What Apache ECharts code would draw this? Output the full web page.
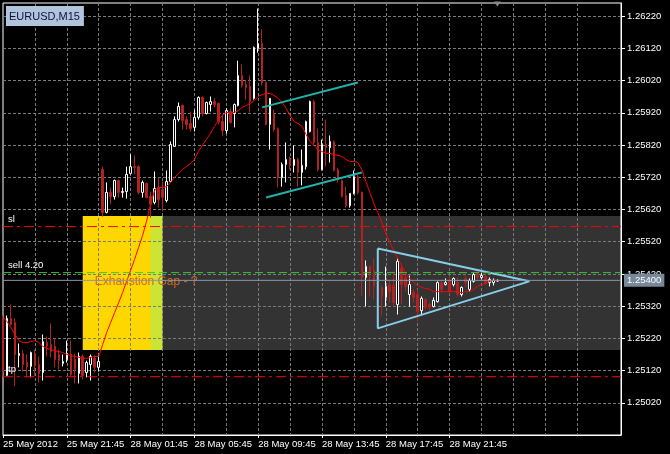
<!DOCTYPE html>
<html><head><meta charset="utf-8">
<script src="https://cdn.jsdelivr.net/npm/echarts@6/dist/echarts.min.js"></script>
<style>html,body{margin:0;padding:0;background:#000;}#c{width:670px;height:454px;}</style>
</head><body><div id="c"></div>
<script>
// ---- Candle data (EURUSD M15), index 0 = 25 May 17:45 ----
const opens = [1.25279,1.25105,1.25282,1.25269,1.25167,1.25173,1.25145,1.25133,1.25173,1.25139,
1.25114,1.25207,1.25201,1.25195,1.25170,1.25142,1.25154,1.25170,1.25154,1.25111,
1.25164,1.25114,1.25139,1.25158,1.25130,1.25744,1.25611,1.25673,1.25660,1.25710,
1.25673,1.25676,1.25732,1.25753,1.25753,1.25673,1.25701,1.25660,1.25642,1.25688,
1.25682,1.25648,1.25707,1.25816,1.25899,1.25943,1.25899,1.25887,1.25875,1.25906,
1.25968,1.25918,1.25946,1.25955,1.25949,1.25893,1.25865,1.25924,1.25918,1.25943,
1.26036,1.26008,1.26002,1.25965,1.26120,1.26135,1.26014,1.25884,1.25915,1.25871,
1.25719,1.25760,1.25775,1.25757,1.25775,1.25735,1.25753,1.25862,1.25955,1.25828,
1.25744,1.25822,1.25812,1.25831,1.25744,1.25710,1.25663,1.25632,1.25670,1.25722,
1.25673,1.25409,1.25443,1.25431,1.25381,1.25378,1.25347,1.25387,1.25384,1.25325,
1.25437,1.25409,1.25356,1.25362,1.25356,1.25306,1.25341,1.25325,1.25319,1.25334,
1.25393,1.25387,1.25397,1.25387,1.25393,1.25356,1.25406,1.25372,1.25397,1.25421,
1.25409,1.25412,1.25393,1.25393,1.25398];
const closes = [1.25117,1.25282,1.25263,1.25170,1.25173,1.25139,1.25133,1.25176,1.25136,1.25111,
1.25210,1.25195,1.25179,1.25154,1.25151,1.25148,1.25173,1.25108,1.25123,1.25164,
1.25105,1.25145,1.25164,1.25130,1.25148,1.25611,1.25673,1.25660,1.25710,1.25673,
1.25676,1.25729,1.25753,1.25750,1.25673,1.25704,1.25657,1.25636,1.25685,1.25651,
1.25657,1.25707,1.25822,1.25899,1.25940,1.25896,1.25884,1.25871,1.25906,1.25968,
1.25918,1.25952,1.25955,1.25946,1.25893,1.25865,1.25927,1.25890,1.25946,1.26036,
1.26005,1.25999,1.25955,1.26123,1.26135,1.26014,1.25884,1.25965,1.25868,1.25719,
1.25760,1.25775,1.25757,1.25775,1.25735,1.25757,1.25893,1.25955,1.25828,1.25744,
1.25822,1.25812,1.25831,1.25741,1.25713,1.25660,1.25632,1.25670,1.25722,1.25673,
1.25409,1.25443,1.25428,1.25381,1.25362,1.25350,1.25381,1.25365,1.25331,1.25459,
1.25387,1.25381,1.25387,1.25347,1.25303,1.25344,1.25316,1.25316,1.25338,1.25393,
1.25372,1.25393,1.25365,1.25406,1.25356,1.25378,1.25393,1.25400,1.25418,1.25409,
1.25415,1.25393,1.25403,1.25400,1.25400];
const highs = [1.25291,1.25291,1.25325,1.25282,1.25204,1.25185,1.25170,1.25179,1.25185,1.25164,
1.25232,1.25226,1.25266,1.25220,1.25185,1.25170,1.25213,1.25213,1.25173,1.25176,
1.25170,1.25151,1.25170,1.25167,1.25167,1.25753,1.25704,1.25688,1.25713,1.25713,
1.25688,1.25753,1.25791,1.25788,1.25757,1.25710,1.25704,1.25676,1.25738,1.25719,
1.25707,1.25741,1.25831,1.25909,1.25952,1.25946,1.25909,1.25924,1.25930,1.25971,
1.25971,1.25955,1.25971,1.25965,1.25952,1.25915,1.25934,1.25934,1.25949,1.26082,
1.26070,1.26020,1.26036,1.26126,1.26244,1.26179,1.26017,1.25965,1.25930,1.25875,
1.25766,1.25828,1.25785,1.25819,1.25781,1.25806,1.25896,1.25958,1.25961,1.25871,
1.25837,1.25899,1.25850,1.25834,1.25750,1.25713,1.25691,1.25670,1.25741,1.25726,
1.25676,1.25462,1.25446,1.25468,1.25393,1.25384,1.25443,1.25403,1.25428,1.25468,
1.25446,1.25418,1.25415,1.25372,1.25372,1.25350,1.25344,1.25331,1.25347,1.25397,
1.25400,1.25406,1.25415,1.25409,1.25409,1.25381,1.25415,1.25406,1.25424,1.25428,
1.25424,1.25424,1.25409,1.25406,1.25403];
const lows = [1.25102,1.25102,1.25260,1.25071,1.25130,1.25117,1.25099,1.25099,1.25102,1.25083,
1.25089,1.25164,1.25161,1.25130,1.25123,1.25133,1.25145,1.25102,1.25080,1.25080,
1.25092,1.25099,1.25089,1.25114,1.25117,1.25598,1.25608,1.25636,1.25651,1.25657,
1.25657,1.25654,1.25729,1.25729,1.25667,1.25657,1.25654,1.25595,1.25636,1.25626,
1.25614,1.25642,1.25704,1.25816,1.25893,1.25868,1.25868,1.25862,1.25862,1.25899,
1.25909,1.25915,1.25924,1.25937,1.25884,1.25847,1.25856,1.25887,1.25875,1.25940,
1.25999,1.25961,1.25921,1.25961,1.26107,1.26005,1.25881,1.25806,1.25862,1.25688,
1.25691,1.25704,1.25744,1.25735,1.25691,1.25695,1.25744,1.25859,1.25822,1.25738,
1.25741,1.25753,1.25766,1.25738,1.25704,1.25657,1.25626,1.25626,1.25667,1.25667,
1.25350,1.25319,1.25350,1.25341,1.25341,1.25291,1.25319,1.25331,1.25319,1.25294,
1.25325,1.25365,1.25319,1.25331,1.25272,1.25291,1.25310,1.25306,1.25316,1.25331,
1.25362,1.25384,1.25359,1.25381,1.25350,1.25350,1.25378,1.25365,1.25393,1.25403,
1.25403,1.25387,1.25381,1.25384,1.25396];
const maValues = [1.25285,1.25272,1.25254,1.25232,1.25213,1.25207,1.25207,1.25210,1.25213,1.25207,
1.25195,1.25189,1.25185,1.25182,1.25179,1.25176,1.25170,1.25167,1.25164,1.25161,
1.25158,1.25158,1.25161,1.25164,1.25164,1.25201,1.25238,1.25269,1.25300,1.25331,
1.25362,1.25397,1.25431,1.25465,1.25502,1.25539,1.25583,1.25636,1.25679,1.25688,
1.25688,1.25691,1.25704,1.25719,1.25732,1.25744,1.25753,1.25763,1.25775,1.25800,
1.25819,1.25837,1.25856,1.25878,1.25896,1.25912,1.25921,1.25921,1.25921,1.25927,
1.25937,1.25943,1.25949,1.25958,1.25971,1.25977,1.25980,1.25980,1.25974,1.25965,
1.25952,1.25934,1.25912,1.25893,1.25887,1.25878,1.25853,1.25831,1.25819,1.25806,
1.25800,1.25794,1.25794,1.25791,1.25788,1.25785,1.25775,1.25769,1.25769,1.25766,
1.25744,1.25707,1.25673,1.25639,1.25611,1.25580,1.25546,1.25518,1.25493,1.25468,
1.25446,1.25421,1.25406,1.25393,1.25384,1.25378,1.25375,1.25372,1.25365,1.25365,
1.25365,1.25365,1.25365,1.25365,1.25365,1.25362,1.25365,1.25365,1.25372,1.25381,
1.25387,1.25390,1.25397,1.25400,1.25400];

// ---- Axis / labels ----
const xTickLabels = ['25 May 2012','25 May 21:45','28 May 01:45','28 May 05:45','28 May 09:45','28 May 13:45','28 May 17:45','28 May 21:45'];
const yMin = 1.24920, yMax = 1.26261, yStep = 0.001;
const symbolTitle = 'EURUSD,M15';

// ---- Objects on chart ----
const slPrice = 1.25567, tpPrice = 1.25101, sellPrice = 1.25424, bidPrice = 1.25400;
const sellLabel = 'sell 4.20';
const gapText = 'Exhaustion Gap - ?';

// categories: 15-minute bars (weekend skipped) + empty shift area
const categories = [];
function fmtTime(day, mins){
  const h = Math.floor(mins/60), m = mins%60;
  return day + ' May ' + String(h).padStart(2,'0') + ':' + String(m).padStart(2,'0');
}
for (let i = 0; i < 156; i++) {
  if (i <= 24) categories.push(fmtTime(25, 17*60+45 + 15*i));
  else { const t = 15*(i-25); categories.push(fmtTime(28 + Math.floor(t/1440), t % 1440)); }
}
const firstCat = categories[0], lastCat = categories[categories.length-1];
const gapBox = [['25 May 22:45', 1.25600], ['28 May 03:45', 1.25184]];
const overlapBox = [['28 May 03:00', 1.25600], ['28 May 03:45', 1.25184]];
const rangeBox = [['28 May 03:00', 1.25600], [lastCat, 1.25184]];
const channelUpper = [['28 May 10:00', 1.25937], ['28 May 16:00', 1.26014]];
const channelLower = [['28 May 10:15', 1.25657], ['28 May 16:15', 1.25735]];
const triangle = [['28 May 17:15', 1.25499], ['29 May 02:45', 1.25397], ['28 May 17:15', 1.25251], ['28 May 17:15', 1.25499]];
const gapTextAt = ['25 May 23:30', 1.25397];

const candleData = opens.map((o, i) => [o, closes[i], lows[i], highs[i]]);
const FONT = 'Liberation Sans';

function levelSeries(price, color, dash, text, z) {
  return {
    type: 'line', z: z, silent: true, symbol: 'circle', symbolSize: 0, showSymbol: true,
    lineStyle: {color: color, type: dash, width: 1}, itemStyle: {color: color},
    data: [
      {value: [firstCat, price], label: {show: !!text, formatter: text || '', position: [5, -12], color: '#fff', fontSize: 9.5, fontFamily: FONT}},
      {value: [lastCat, price], label: {show: false}}
    ]
  };
}

const chart = echarts.init(document.getElementById('c'), null, {renderer: 'canvas'});
chart.setOption({
  backgroundColor: '#000',
  animation: false,
  textStyle: {fontFamily: FONT},
  title: {
    text: symbolTitle, left: 6, top: 6, padding: [4, 4, 3, 3],
    backgroundColor: '#B0C4DE',
    textStyle: {color: '#10103a', fontSize: 11, fontWeight: 'normal', fontFamily: FONT, lineHeight: 13}
  },
  grid: {left: 3, top: 3, right: 49, bottom: 19, show: true, borderColor: '#fff', borderWidth: 1, backgroundColor: 'transparent'},
  xAxis: {
    type: 'category', data: categories, boundaryGap: false,
    axisLine: {show: true, lineStyle: {color: '#fff'}},
    axisTick: {show: true, length: 3, lineStyle: {color: '#fff'},
      interval: (i) => i % 16 === 0 && i / 16 < xTickLabels.length},
    axisLabel: {color: '#fff', fontSize: 9.5, align: 'left', margin: 4, fontFamily: FONT,
      interval: (i) => i % 16 === 0 && i / 16 < xTickLabels.length,
      formatter: (v, i) => xTickLabels[i / 16] || ''},
    splitLine: {show: true, interval: (i) => i % 8 === 0, showMinLine: false, showMaxLine: false,
      lineStyle: {color: '#7a7a7a', type: [3, 2], width: 1}}
  },
  yAxis: {
    type: 'value', position: 'right', min: yMin, max: yMax, interval: yStep, scale: true,
    axisLine: {show: true, lineStyle: {color: '#fff'}},
    axisTick: {show: true, length: 4, lineStyle: {color: '#fff'}},
    axisLabel: {color: '#fff', fontSize: 9.5, margin: 6, fontFamily: FONT,
      showMinLabel: false, showMaxLabel: false, formatter: (v) => v.toFixed(5)},
    splitLine: {show: true, showMinLine: false, showMaxLine: false,
      lineStyle: {color: '#7a7a7a', type: [3, 2], width: 1}}
  },
  series: [
    {
      type: 'line', data: [], z: -1, silent: true,
      markArea: {
        z: -1, silent: true,
        data: [
          [{xAxis: rangeBox[0][0], yAxis: rangeBox[0][1], itemStyle: {color: '#333333', opacity: 1}}, {xAxis: rangeBox[1][0], yAxis: rangeBox[1][1]}],
          [{xAxis: gapBox[0][0], yAxis: gapBox[0][1], itemStyle: {color: '#FFD700', opacity: 1}}, {xAxis: gapBox[1][0], yAxis: gapBox[1][1]}],
          [{xAxis: overlapBox[0][0], yAxis: overlapBox[0][1], itemStyle: {color: '#CCE433', opacity: 1}}, {xAxis: overlapBox[1][0], yAxis: overlapBox[1][1]}]
        ]
      }
    },
    {
      type: 'candlestick', data: candleData, barWidth: 2, z: 2,
      itemStyle: {color: '#000000', color0: '#B22222', borderColor: '#ffffff', borderColor0: '#B22222', borderWidth: 1}
    },
    levelSeries(slPrice, '#ff0000', [10, 4, 3, 4], 'sl', 6),
    levelSeries(tpPrice, '#ff0000', [10, 4, 3, 4], 'tp', 6),
    levelSeries(sellPrice, '#32CD32', [8, 4], sellLabel, 6),
    {
      type: 'line', z: 6, silent: true, symbol: 'circle', symbolSize: 0, showSymbol: true,
      lineStyle: {color: '#8a97a8', type: 'solid', width: 1}, itemStyle: {color: '#8a97a8'},
      data: [
        {value: [firstCat, bidPrice], label: {show: false}},
        {value: [lastCat, bidPrice], label: {show: true, formatter: bidPrice.toFixed(5), position: 'right', distance: 3,
          color: '#fff', fontSize: 9.5, fontFamily: FONT, backgroundColor: '#778899', padding: [2, 3, 1, 3]}}
      ]
    },
    {
      type: 'line', data: maValues, symbol: 'none', z: 3, lineStyle: {color: '#ff0000', width: 1}, silent: true,
      markPoint: {
        silent: true,
        data: [
          {coord: gapTextAt, symbolSize: 0,
            label: {show: true, formatter: gapText, position: 'right', distance: 0, color: '#D2691E', fontSize: 12, fontFamily: FONT}},
          {coord: [categories[124], yMax], symbol: 'triangle', symbolRotate: 180, symbolSize: [7, 5], symbolOffset: [0, 1],
            itemStyle: {color: '#8a8a8a'}, label: {show: false}}
        ]
      }
    },
    {type: 'line', data: channelUpper, symbol: 'none', z: 4, lineStyle: {color: '#20B2AA', width: 2}, silent: true},
    {type: 'line', data: channelLower, symbol: 'none', z: 4, lineStyle: {color: '#20B2AA', width: 2}, silent: true},
    {type: 'line', data: triangle, symbol: 'none', z: 4, lineStyle: {color: '#87CEEB', width: 2}, silent: true}
  ]
});
</script>
</body></html>
